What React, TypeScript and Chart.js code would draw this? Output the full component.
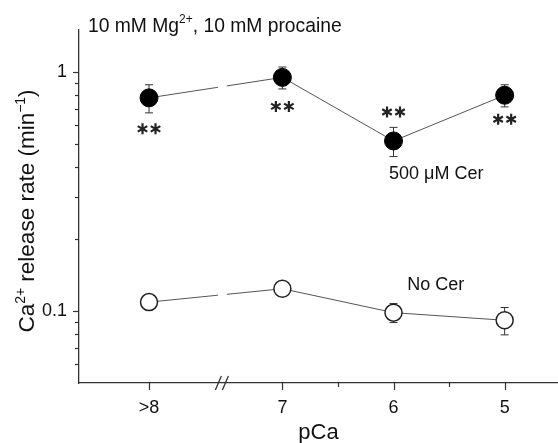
import { useEffect, useRef } from 'react';
import { Chart, registerables } from 'chart.js';

Chart.register(...registerables);

// ---- data ----
const categories = ['>8', '7', '6', '5'];
const xPositions = [8.2, 7, 6, 5];
const cerMean = [0.78, 0.95, 0.515, 0.8];
const cerErr = [0.105, 0.1, 0.072, 0.085];
const noCerMean = [0.109, 0.124, 0.0985, 0.0915];
const noCerErr = [0.003, 0.003, 0.009, 0.012];
const xTickValues = [8.2, 7, 6.5, 6, 5.5, 5];
const xTickLabels = ['>8', '7', '', '6', '', '5'];
const yTickValues = [0.06, 0.07, 0.08, 0.09, 0.1, 0.2, 0.3, 0.4, 0.5, 0.6, 0.7, 0.8, 0.9, 1];
const yTickLabels = ['', '', '', '', '0.1', '', '', '', '', '', '', '', '', '1'];
const breakValue = 7.54;
const starOffsets = [31, 29, -29, 24];

const FONT = '"Liberation Sans", Arial, sans-serif';
const FS = 18;

type Seg = { t: string; sup?: boolean };

function drawRich(ctx: CanvasRenderingContext2D, segs: Seg[], x: number, y: number, size: number, align: 'left' | 'center') {
  const supSize = size * 0.62;
  const widths = segs.map((s) => {
    ctx.font = `${s.sup ? supSize : size}px ${FONT}`;
    return ctx.measureText(s.t).width;
  });
  const total = widths.reduce((a, b) => a + b, 0);
  let cx = align === 'center' ? x - total / 2 : x;
  ctx.textAlign = 'left';
  ctx.textBaseline = 'alphabetic';
  segs.forEach((s, i) => {
    ctx.font = `${s.sup ? supSize : size}px ${FONT}`;
    ctx.fillText(s.t, cx, s.sup ? y - size * 0.42 : y);
    cx += widths[i];
  });
}

function drawStar(ctx: CanvasRenderingContext2D, cx: number, cy: number, r: number) {
  ctx.beginPath();
  for (let k = 0; k < 3; k++) {
    const a = Math.PI / 2 + (k * Math.PI) / 3;
    ctx.moveTo(cx + r * Math.cos(a), cy + r * Math.sin(a));
    ctx.lineTo(cx - r * Math.cos(a), cy - r * Math.sin(a));
  }
  ctx.stroke();
}

const overlay = {
  id: 'overlay',
  beforeDatasetDraw(chart: any, args: any) {
    const ctx = chart.ctx as CanvasRenderingContext2D;
    const x = chart.scales.x;
    const y = chart.scales.y;
    if (args.index === 0 || args.index === 1) {
      const bx = x.getPixelForValue(breakValue);
      ctx.save();
      ctx.beginPath();
      ctx.rect(0, 0, bx - 4.5, chart.height);
      ctx.rect(bx + 4.5, 0, chart.width - bx - 4.5, chart.height);
      ctx.clip();
    } else {
      const means = args.index === 2 ? cerMean : noCerMean;
      const errs = args.index === 2 ? cerErr : noCerErr;
      ctx.save();
      ctx.strokeStyle = '#333';
      ctx.lineWidth = 1;
      means.forEach((m, i) => {
        const px = x.getPixelForValue(xPositions[i]);
        const top = y.getPixelForValue(m + errs[i]);
        const bot = y.getPixelForValue(m - errs[i]);
        ctx.beginPath();
        ctx.moveTo(px, top);
        ctx.lineTo(px, bot);
        ctx.moveTo(px - 4, top);
        ctx.lineTo(px + 4, top);
        ctx.moveTo(px - 4, bot);
        ctx.lineTo(px + 4, bot);
        ctx.stroke();
      });
      ctx.restore();
    }
  },
  afterDatasetDraw(chart: any, args: any) {
    if (args.index === 0 || args.index === 1) chart.ctx.restore();
  },
  afterDraw(chart: any) {
    const ctx = chart.ctx as CanvasRenderingContext2D;
    const x = chart.scales.x;
    const y = chart.scales.y;
    const area = chart.chartArea;
    ctx.save();
    ctx.strokeStyle = '#333';
    ctx.lineWidth = 1.2;
    // y ticks
    yTickValues.forEach((v, i) => {
      const py = Math.round(y.getPixelForValue(v)) + 0.5;
      const len = yTickLabels[i] ? 6 : 4;
      ctx.beginPath();
      ctx.moveTo(area.left, py);
      ctx.lineTo(area.left - len, py);
      ctx.stroke();
    });
    // x ticks
    xTickValues.forEach((v, i) => {
      const px = Math.round(x.getPixelForValue(v)) + 0.5;
      const len = xTickLabels[i] ? 7 : 4;
      ctx.beginPath();
      ctx.moveTo(px, area.bottom);
      ctx.lineTo(px, area.bottom + len);
      ctx.stroke();
    });
    // axis break
    const bx = x.getPixelForValue(breakValue);
    const by = area.bottom;
    ctx.lineWidth = 1.3;
    [-4, 3].forEach((o) => {
      ctx.beginPath();
      ctx.moveTo(bx + o - 3, by + 7);
      ctx.lineTo(bx + o + 3, by - 7);
      ctx.stroke();
    });
    // title
    ctx.fillStyle = '#111';
    drawRich(ctx, [{ t: '10 mM Mg' }, { t: '2+', sup: true }, { t: ', 10 mM procaine' }], area.left + 9, 31.5, 19.3, 'left');
    // y axis title
    ctx.save();
    ctx.translate(26, 211);
    ctx.rotate(-Math.PI / 2);
    drawRich(ctx, [{ t: 'Ca' }, { t: '2+', sup: true }, { t: ' release rate (min' }, { t: '\u22121', sup: true }, { t: ')' }], 0, 8, 22.5, 'center');
    ctx.restore();
    // x axis title
    ctx.font = `22px ${FONT}`;
    ctx.textAlign = 'center';
    ctx.textBaseline = 'middle';
    ctx.fillText('pCa', (area.left + area.right) / 2, 433);
    // significance stars
    ctx.strokeStyle = '#222';
    ctx.lineWidth = 2.2;
    ctx.lineCap = 'butt';
    cerMean.forEach((m, i) => {
      const px = x.getPixelForValue(xPositions[i]);
      const py = y.getPixelForValue(m) + starOffsets[i];
      drawStar(ctx, px - 6.5, py, 5.5);
      drawStar(ctx, px + 6.5, py, 5.5);
    });
    // series labels
    ctx.fillStyle = '#111';
    ctx.font = `${FS}px ${FONT}`;
    ctx.textAlign = 'left';
    ctx.fillText('500 \u03BCM Cer', x.getPixelForValue(6.04), y.getPixelForValue(0.376));
    ctx.fillText('No Cer', x.getPixelForValue(5.877), y.getPixelForValue(0.129));
    ctx.restore();
  },
};

export default function App() {
  const ref = useRef<HTMLCanvasElement>(null);
  useEffect(() => {
    const canvas = ref.current!;
    const pts = (vals: number[]) => vals.map((v, i) => ({ x: xPositions[i], y: v }));
    const chart = new Chart(canvas, {
      type: 'scatter',
      data: {
        labels: categories,
        datasets: [
          { label: '500 μM Cer line', data: pts(cerMean), showLine: true, pointRadius: 0, borderColor: '#555', borderWidth: 1, order: 5 },
          { label: 'No Cer line', data: pts(noCerMean), showLine: true, pointRadius: 0, borderColor: '#555', borderWidth: 1, order: 5 },
          { label: '500 μM Cer', data: pts(cerMean), showLine: false, pointRadius: 9, backgroundColor: '#000', borderColor: '#000', borderWidth: 1, order: 1 },
          { label: 'No Cer', data: pts(noCerMean), showLine: false, pointRadius: 8.5, backgroundColor: '#fff', borderColor: '#222', borderWidth: 1.5, order: 1 },
        ],
      },
      options: {
        responsive: false,
        animation: false,
        devicePixelRatio: 1,
        events: [],
        layout: { autoPadding: false, padding: { top: 30, left: 0, right: 0, bottom: 0 } },
        plugins: { legend: { display: false }, tooltip: { enabled: false } },
        scales: {
          x: {
            type: 'linear',
            reverse: true,
            min: 4.52,
            max: 8.83,
            afterBuildTicks: (s: any) => {
              s.ticks = xTickValues.map((v) => ({ value: v }));
            },
            afterFit: (s: any) => {
              s.height = 60;
              s.paddingLeft = 0;
              s.paddingRight = 0;
            },
            ticks: {
              callback: (_v: any, i: number) => xTickLabels[i],
              font: { family: FONT, size: FS },
              color: '#111',
              padding: 14,
              autoSkip: false,
              maxRotation: 0,
            },
            grid: { display: true, drawOnChartArea: false, drawTicks: false },
            border: { display: true, color: '#333', width: 1.3 },
          },
          y: {
            type: 'logarithmic',
            min: 0.05,
            max: 1.5,
            afterBuildTicks: (s: any) => {
              s.ticks = yTickValues.map((v) => ({ value: v }));
            },
            afterFit: (s: any) => {
              s.width = 79;
              s.paddingTop = 0;
              s.paddingBottom = 0;
            },
            ticks: {
              callback: (_v: any, i: number) => yTickLabels[i],
              font: { family: FONT, size: FS },
              color: '#111',
              padding: 12,
              autoSkip: false,
            },
            grid: { display: true, drawOnChartArea: false, drawTicks: false },
            border: { display: true, color: '#333', width: 1.3 },
          },
        },
      },
      plugins: [overlay],
    });
    return () => chart.destroy();
  }, []);
  return (
    <div style={{ position: 'fixed', left: 0, top: 0, width: 558, height: 443, background: '#fff' }}>
      <canvas ref={ref} width={558} height={443} style={{ display: 'block', width: 558, height: 443 }} />
    </div>
  );
}
